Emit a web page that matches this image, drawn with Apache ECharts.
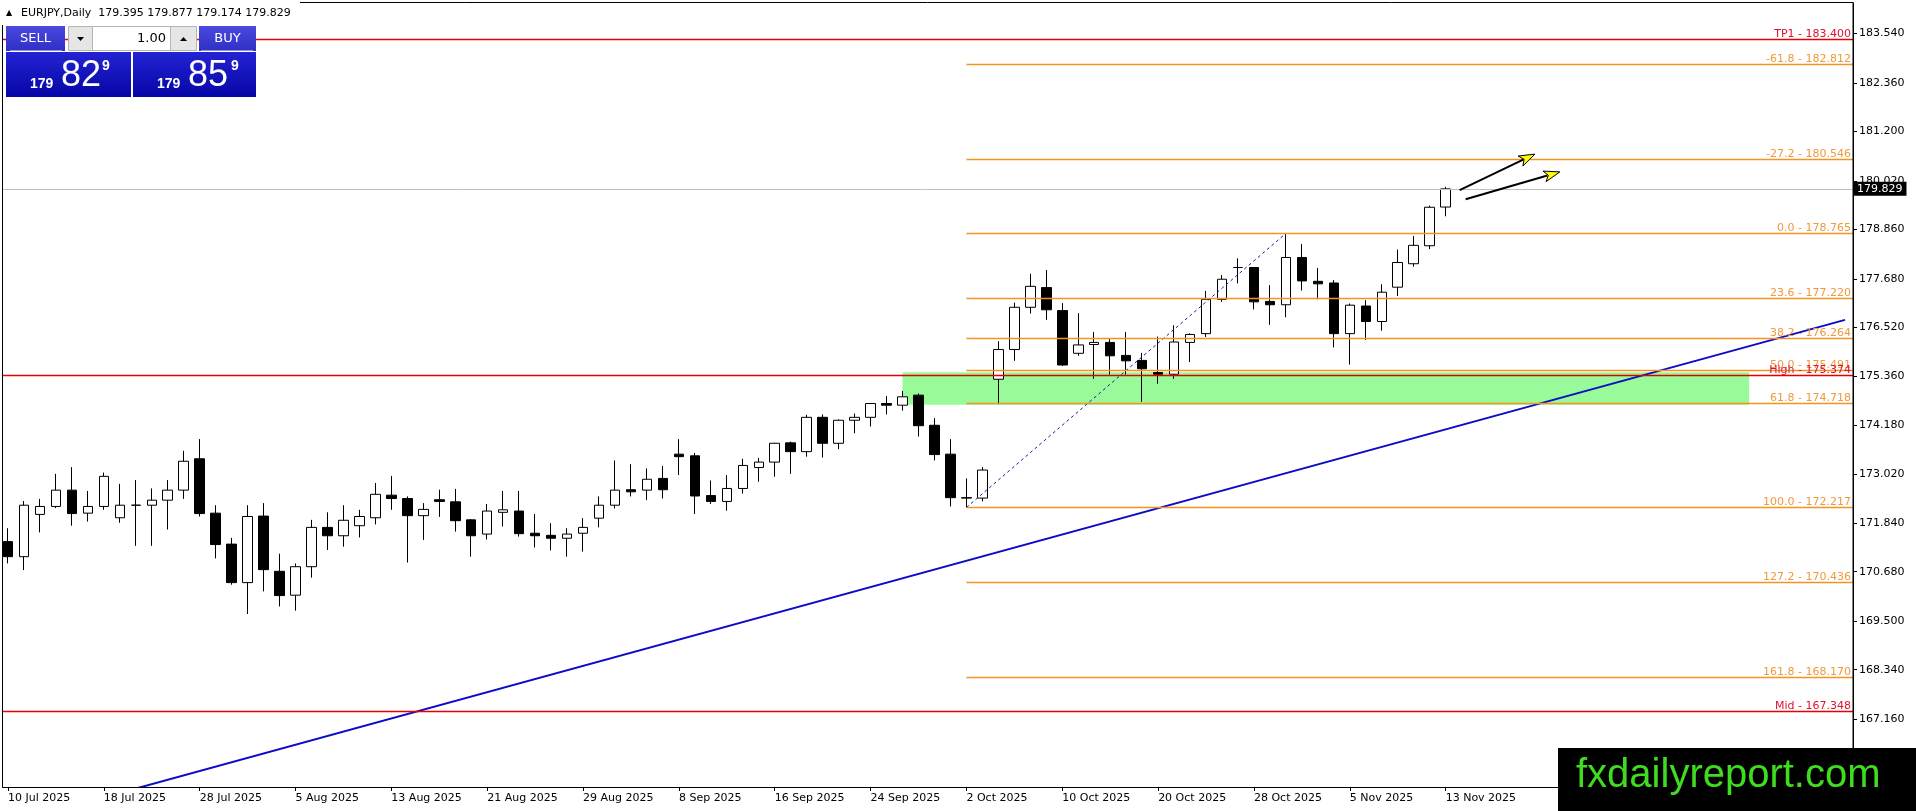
<!DOCTYPE html>
<html><head><meta charset="utf-8">
<script src="https://cdn.jsdelivr.net/npm/echarts@6/dist/echarts.min.js"></script>
<style>html,body{margin:0;padding:0;background:#fff}#c{width:1916px;height:811px}</style>
</head><body><div id="c"></div>
<script>
// ---------------- data ----------------
const symbolTitle = 'EURJPY,Daily';
const lastQuote = [179.395, 179.877, 179.174, 179.829]; // O H L C of last bar
const julDays = [10,11,14,15,16,17,18,21,22,23,24,25,28,29,30,31];
const augDays = [1,4,5,6,7,8,11,12,13,14,15,18,19,20,21,22,25,26,27,28,29];
const sepDays = [1,2,3,4,5,8,9,10,11,12,15,16,17,18,19,22,23,24,25,26,29,30];
const octDays = [1,2,3,6,7,8,9,10,13,14,15,16,17,20,21,22,23,24,27,28,29,30,31];
const novDays = [3,4,5,6,7,10,11,12,13];
const futureBars = 25;
const xLabelEvery = 6;
// [open, high, low, close]
const candles = [
[171.40,171.72,170.88,171.04],[171.04,172.37,170.72,172.27],[172.05,172.42,171.62,172.24],[172.24,173.02,172.20,172.63],
[172.63,173.18,171.78,172.07],[172.08,172.61,171.88,172.24],[172.24,173.05,172.16,172.96],[171.97,172.78,171.85,172.27],
[172.27,172.87,171.30,172.27],[172.27,172.67,171.30,172.39],[172.39,172.87,171.69,172.63],[172.63,173.57,172.42,173.32],
[173.38,173.85,172.00,172.07],[172.08,172.27,171.00,171.33],[171.34,171.49,170.37,170.42],[170.42,172.27,169.67,172.00],
[172.01,172.32,170.21,170.73],[170.69,171.11,169.85,170.11],[170.12,170.88,169.75,170.80],[170.80,171.92,170.54,171.74],
[171.74,172.10,171.20,171.54],[171.54,172.27,171.28,171.91],[171.78,172.16,171.50,172.00],[171.97,172.80,171.81,172.53],
[172.51,172.97,172.16,172.43],[172.43,172.48,170.90,172.02],[172.02,172.32,171.44,172.17],[172.40,172.64,171.99,172.36],
[172.35,172.66,171.64,171.90],[171.92,171.94,171.04,171.54],[171.58,172.30,171.45,172.13],[172.10,172.61,171.76,172.16],
[172.13,172.61,171.52,171.59],[171.60,172.06,171.26,171.54],[171.55,171.84,171.19,171.48],[171.48,171.72,171.04,171.58],
[171.60,171.96,171.16,171.74],[171.96,172.48,171.74,172.27],[172.27,173.34,172.19,172.63],[172.64,173.25,172.48,172.59],
[172.63,173.15,172.39,172.89],[172.91,173.21,172.43,172.64],[173.49,173.85,172.99,173.43],[173.45,173.52,172.06,172.49],
[172.50,172.86,172.30,172.36],[172.36,172.99,172.14,172.67],[172.67,173.38,172.55,173.22],[173.17,173.40,172.83,173.30],
[173.30,173.76,172.95,173.75],[173.76,173.79,173.02,173.55],[173.55,174.43,173.43,174.37],[174.37,174.44,173.41,173.75],
[173.75,174.32,173.61,174.30],[174.30,174.46,173.99,174.37],[174.37,174.71,174.15,174.70],[174.70,174.88,174.44,174.66],
[174.66,175.00,174.53,174.86],[174.90,174.94,173.91,174.17],[174.18,174.35,173.34,173.48],[173.49,173.85,172.24,172.45],
[172.45,172.91,172.217,172.44],[172.44,173.18,172.36,173.11],[175.28,176.19,174.68,175.99],[175.99,177.11,175.72,177.00],
[177.00,177.80,176.85,177.50],[177.47,177.89,176.70,176.94],[176.92,177.10,175.60,175.62],[175.90,176.86,175.84,176.10],
[176.11,176.41,175.29,176.16],[176.16,176.25,175.39,175.84],[175.85,176.41,175.39,175.72],[175.73,175.91,174.74,175.53],
[175.44,176.30,175.17,175.40],[175.40,176.57,175.29,176.17],[176.16,176.38,175.69,176.35],[176.37,177.39,176.29,177.19],
[177.19,177.77,177.13,177.67],[177.95,178.17,177.57,177.95],[177.95,177.96,176.95,177.13],[177.14,177.53,176.58,177.06],
[177.06,178.765,176.76,178.19],[178.19,178.51,177.40,177.63],[177.62,177.94,177.19,177.56],[177.58,177.65,176.04,176.37],
[176.37,177.09,175.63,177.05],[177.03,177.17,176.22,176.66],[176.66,177.55,176.44,177.36],[177.48,178.38,177.27,178.07],
[178.04,178.70,177.97,178.48],[178.47,179.43,178.39,179.39],[179.395,179.877,179.174,179.829]
];
const yTicks = [167.16,168.34,169.50,170.68,171.84,173.02,174.18,175.36,176.52,177.68,178.86,180.02,181.20,182.36,183.54];
const yMin = 165.536, yMax = 184.271;
const fibStartBar = 60;
const fibPct = [-61.8,-27.2,0.0,23.6,38.2,50.0,61.8,100.0,127.2,161.8];
const fibVal = [182.812,180.546,178.765,177.220,176.264,175.491,174.718,172.217,170.436,168.170];
const redNames = ['TP1','High','Mid'];
const redVals = [183.400,175.374,167.348];
const zoneBox = [[56,175.45,109,174.67]];           // bar, top, bar, bottom
const trendLine = [[0,164.662],[115,176.698]];
const fibDiagonal = [[60,172.217],[80,178.765]];
const arrows = [[90.875,179.80,95.59,180.66],[91.25,179.58,97.15,180.235]];
const sellPrice = ['179','82','9'];
const buyPrice = ['179','85','9'];
const lotSize = '1.00';
const watermark = 'fxdailyreport.com';

// ---------------- build ----------------
const F = '"DejaVu Sans", Tahoma, sans-serif';
const dates = [];
[['Jul',julDays],['Aug',augDays],['Sep',sepDays],['Oct',octDays],['Nov',novDays]].forEach(([m,ds]) => ds.forEach(d => dates.push(d + ' ' + m + ' 2025')));
const nBars = dates.length;
const cats = dates.concat(Array.from({length: futureBars}, () => ''));
const showIdx = (i) => i % xLabelEvery === 0 && i < nBars;
const ecCandles = candles.map(c => [c[0], c[3], c[2], c[1]]);

function pt(api, b, v) {
  const i = Math.floor(b), f = b - i;
  const a = api.coord([i, v]), c = api.coord([i + 1, v]);
  return [a[0] + f * (c[0] - a[0]), a[1]];
}
function levelSeries(data, labels, lineColor, textColor, full) {
  return {
    type: 'custom', z: 4, silent: true, data: data, encode: {x: 0, y: 1},
    renderItem: function (params, api) {
      const cs = params.coordSys;
      const v = api.value(1);
      const y = Math.round(api.coord([0, v])[1]) + 0.5;
      const x0 = full ? cs.x : api.coord([api.value(0), v])[0];
      const x1 = cs.x + cs.width;
      return {type: 'group', children: [
        {type: 'line', shape: {x1: x0, y1: y, x2: x1, y2: y}, style: {stroke: lineColor, lineWidth: 1.6}},
        {type: 'text', x: x1 - 2, y: y, style: {text: labels[params.dataIndex], fill: textColor, fontSize: 11, fontFamily: F, align: 'right', verticalAlign: 'bottom'}}
      ]};
    }
  };
}

const chart = echarts.init(document.getElementById('c'), null, {renderer: 'canvas'});
const grad = (a, b) => new echarts.graphic.LinearGradient(0, 0, 0, 1, [{offset: 0, color: a}, {offset: 1, color: b}]);

const option = {
  animation: false,
  backgroundColor: '#fff',
  grid: {left: -5, right: 63, top: 3, bottom: 24, containLabel: false},
  xAxis: {
    type: 'category', data: cats, boundaryGap: true,
    axisLine: {show: true, lineStyle: {color: '#000', width: 1}},
    axisTick: {show: true, alignWithLabel: true, interval: (i) => showIdx(i), length: 4, lineStyle: {color: '#000'}},
    axisLabel: {show: true, interval: (i) => showIdx(i), align: 'left', margin: 6, color: '#000', fontSize: 11, fontFamily: F, hideOverlap: false},
    splitLine: {show: false}
  },
  yAxis: {
    type: 'value', position: 'right', min: yMin, max: yMax, scale: true,
    axisLine: {show: true, lineStyle: {color: '#000', width: 1}},
    axisTick: {show: true, length: 4, customValues: yTicks, lineStyle: {color: '#000'}},
    axisLabel: {show: true, customValues: yTicks, formatter: (v) => v.toFixed(3), margin: 6, color: '#000', fontSize: 11, fontFamily: F},
    splitLine: {show: false}
  },
  series: [
    {
      type: 'custom', z: 1, silent: true, data: zoneBox, encode: {x: [0, 2], y: [1, 3]},
      renderItem: function (params, api) {
        const p0 = api.coord([api.value(0), api.value(1)]);
        const p1 = api.coord([api.value(2), api.value(3)]);
        return {type: 'rect', shape: {x: p0[0], y: p0[1], width: p1[0] - p0[0], height: p1[1] - p0[1]}, style: {fill: '#98fa98'}};
      }
    },
    {
      type: 'candlestick', z: 2, data: ecCandles, barWidth: 10, silent: true,
      itemStyle: {color: '#fff', color0: '#000', borderColor: '#000', borderColor0: '#000', borderWidth: 1},
      markLine: {
        silent: true, symbol: ['none', 'none'], animation: false,
        data: [{yAxis: lastQuote[3]}],
        lineStyle: {color: '#c0c0c0', width: 1, type: 'solid'},
        label: {show: true, position: 'end', formatter: lastQuote[3].toFixed(3), backgroundColor: '#000', color: '#fff', padding: [2, 4, 1, 3], fontSize: 11, fontFamily: F, distance: 1}
      }
    },
    {
      type: 'line', z: 3, data: trendLine, showSymbol: false, symbol: 'none', silent: true, clip: true,
      lineStyle: {color: '#0c0cc8', width: 2}
    },
    {
      type: 'line', z: 3, data: fibDiagonal, showSymbol: false, symbol: 'none', silent: true,
      lineStyle: {color: '#1c1c9a', width: 1, type: [3, 3]}
    },
    levelSeries(fibVal.map(v => [fibStartBar, v]), fibPct.map((p, i) => p.toFixed(1) + ' - ' + fibVal[i].toFixed(3)), '#f39322', '#ef9a3c', false),
    levelSeries(redVals.map(v => [0, v]), redNames.map((n, i) => n + ' - ' + redVals[i].toFixed(3)), '#e80000', '#e01030', true),
    {
      type: 'custom', z: 5, silent: true, data: arrows, encode: {x: [0, 2], y: [1, 3]},
      renderItem: function (params, api) {
        const p0 = pt(api, api.value(0), api.value(1));
        const p1 = pt(api, api.value(2), api.value(3));
        const dx = p1[0] - p0[0], dy = p1[1] - p0[1], L = Math.hypot(dx, dy);
        const ux = dx / L, uy = dy / L, hl = 16, hw = 5.5;
        const bx = p1[0] - ux * hl, by = p1[1] - uy * hl, nx = -uy, ny = ux;
        return {type: 'group', children: [
          {type: 'line', shape: {x1: p0[0], y1: p0[1], x2: bx + ux * 3, y2: by + uy * 3}, style: {stroke: '#000', lineWidth: 2}},
          {type: 'polygon', shape: {points: [[p1[0], p1[1]], [bx + nx * hw, by + ny * hw], [bx + ux * 4, by + uy * 4], [bx - nx * hw, by - ny * hw]]}, style: {fill: '#ffff00', stroke: '#000', lineWidth: 1}}
        ]};
      }
    }
  ],
  graphic: [
    {type: 'rect', z: 90, silent: true, shape: {x: 0, y: 0, width: 2.5, height: 790}, style: {fill: '#fff'}},
    {type: 'rect', z: 91, silent: true, shape: {x: 2.5, y: 2.5, width: 1850.5, height: 785}, style: {fill: 'none', stroke: '#000', lineWidth: 1}},
    {type: 'rect', z: 92, silent: true, shape: {x: 0, y: 0, width: 300, height: 25}, style: {fill: '#fff'}},
    {type: 'text', z: 93, silent: true, x: 6, y: 13, style: {text: '▲', fontSize: 8, fontFamily: F, fill: '#000', verticalAlign: 'middle'}},
    {type: 'text', z: 93, silent: true, x: 21, y: 13, style: {text: symbolTitle + '  ' + lastQuote.map(v => v.toFixed(3)).join(' '), fontSize: 11, fontFamily: F, fill: '#000', verticalAlign: 'middle'}},
    // one-click panel
    {type: 'rect', z: 93, silent: true, shape: {x: 6, y: 26, width: 59, height: 25}, style: {fill: grad('#4a4ae0', '#2f2fc6')}},
    {type: 'rect', z: 93, silent: true, shape: {x: 199, y: 26, width: 57, height: 25}, style: {fill: grad('#4a4ae0', '#2f2fc6')}},
    {type: 'line', z: 94, silent: true, shape: {x1: 10, y1: 50.5, x2: 62, y2: 50.5}, style: {stroke: '#8f8fe8', lineWidth: 1}},
    {type: 'line', z: 94, silent: true, shape: {x1: 201, y1: 50.5, x2: 253, y2: 50.5}, style: {stroke: '#8f8fe8', lineWidth: 1}},
    {type: 'text', z: 94, silent: true, x: 35.5, y: 38.5, style: {text: 'SELL', fontSize: 13, fontFamily: F, fill: '#fff', align: 'center', verticalAlign: 'middle'}},
    {type: 'text', z: 94, silent: true, x: 227.5, y: 38.5, style: {text: 'BUY', fontSize: 13, fontFamily: F, fill: '#fff', align: 'center', verticalAlign: 'middle'}},
    {type: 'rect', z: 93, silent: true, shape: {x: 68.5, y: 26.5, width: 24, height: 24}, style: {fill: '#e6e6e6', stroke: '#b4b4b4', lineWidth: 1}},
    {type: 'rect', z: 93, silent: true, shape: {x: 92.5, y: 26.5, width: 78, height: 24}, style: {fill: '#fff', stroke: '#b4b4b4', lineWidth: 1}},
    {type: 'rect', z: 93, silent: true, shape: {x: 170.5, y: 26.5, width: 26, height: 24}, style: {fill: '#e6e6e6', stroke: '#b4b4b4', lineWidth: 1}},
    {type: 'polygon', z: 94, silent: true, shape: {points: [[77, 37], [84, 37], [80.5, 41]]}, style: {fill: '#000'}},
    {type: 'polygon', z: 94, silent: true, shape: {points: [[180, 41], [187, 41], [183.5, 37]]}, style: {fill: '#000'}},
    {type: 'text', z: 94, silent: true, x: 166, y: 38.5, style: {text: lotSize, fontSize: 13, fontFamily: F, fill: '#000', align: 'right', verticalAlign: 'middle'}},
    {type: 'rect', z: 93, silent: true, shape: {x: 6, y: 52, width: 125, height: 45}, style: {fill: grad('#2323d4', '#0606a6')}},
    {type: 'rect', z: 93, silent: true, shape: {x: 133, y: 52, width: 123, height: 45}, style: {fill: grad('#2323d4', '#0606a6')}},
    {type: 'text', z: 94, silent: true, x: 30, y: 84, style: {text: sellPrice[0], font: 'bold 14px "Liberation Sans", Arial, sans-serif', fill: '#fff', verticalAlign: 'middle'}},
    {type: 'text', z: 94, silent: true, x: 61, y: 76, style: {text: sellPrice[1], font: '36px "Liberation Sans", Arial, sans-serif', fill: '#fff', verticalAlign: 'middle'}},
    {type: 'text', z: 94, silent: true, x: 102, y: 66, style: {text: sellPrice[2], font: 'bold 14px "Liberation Sans", Arial, sans-serif', fill: '#fff', verticalAlign: 'middle'}},
    {type: 'text', z: 94, silent: true, x: 157, y: 84, style: {text: buyPrice[0], font: 'bold 14px "Liberation Sans", Arial, sans-serif', fill: '#fff', verticalAlign: 'middle'}},
    {type: 'text', z: 94, silent: true, x: 188, y: 76, style: {text: buyPrice[1], font: '36px "Liberation Sans", Arial, sans-serif', fill: '#fff', verticalAlign: 'middle'}},
    {type: 'text', z: 94, silent: true, x: 231, y: 66, style: {text: buyPrice[2], font: 'bold 14px "Liberation Sans", Arial, sans-serif', fill: '#fff', verticalAlign: 'middle'}},
    // watermark
    {type: 'rect', z: 95, silent: true, shape: {x: 1558, y: 748, width: 358, height: 63}, style: {fill: '#000'}},
    {type: 'text', z: 96, silent: true, x: 1576, y: 776, style: {text: watermark, font: '40px "Liberation Sans", Arial, sans-serif', fill: '#3fdc1f', verticalAlign: 'middle'}}
  ]
};
chart.setOption(option);
</script>
</body></html>
